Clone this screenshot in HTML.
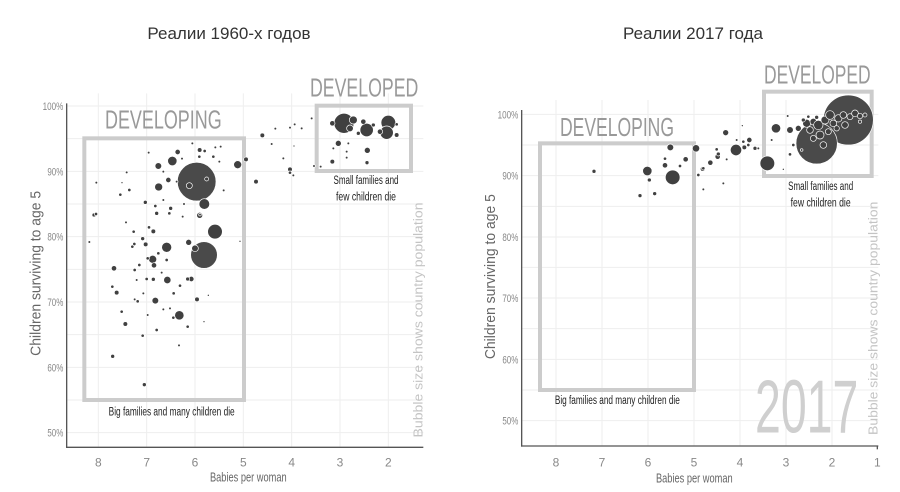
<!DOCTYPE html>
<html><head><meta charset="utf-8"><style>
html,body{margin:0;padding:0;background:#fff;}
svg{display:block;font-family:"Liberation Sans",sans-serif;}
.t{font-family:"Liberation Sans",sans-serif;}
</style></head><body>
<svg width="900" height="492" viewBox="0 0 900 492" xmlns="http://www.w3.org/2000/svg">
<rect width="900" height="492" fill="#fff"/>
<text x="229" y="39" font-size="17" fill="#333" text-anchor="middle" font-family="Liberation Sans, DejaVu Sans, sans-serif">Реалии 1960-х годов</text>
<text x="693" y="39" font-size="17" fill="#333" text-anchor="middle" font-family="Liberation Sans, DejaVu Sans, sans-serif">Реалии 2017 года</text>

<!-- LEFT -->
<g transform="translate(0,60) scale(0.33333)">
<g stroke="#eeeeee" stroke-width="3">
<line x1="295" y1="100" x2="295" y2="1162"/><line x1="440" y1="100" x2="440" y2="1162"/><line x1="585" y1="100" x2="585" y2="1162"/><line x1="730" y1="100" x2="730" y2="1162"/><line x1="875" y1="100" x2="875" y2="1162"/><line x1="1020" y1="100" x2="1020" y2="1162"/><line x1="1165" y1="100" x2="1165" y2="1162"/>
<line x1="200" y1="236" x2="1270" y2="236"/><line x1="200" y1="334" x2="1270" y2="334"/><line x1="200" y1="432" x2="1270" y2="432"/><line x1="200" y1="530" x2="1270" y2="530"/><line x1="200" y1="628" x2="1270" y2="628"/><line x1="200" y1="726" x2="1270" y2="726"/><line x1="200" y1="824" x2="1270" y2="824"/><line x1="200" y1="922" x2="1270" y2="922"/><line x1="200" y1="1020" x2="1270" y2="1020"/><line x1="200" y1="1118" x2="1270" y2="1118"/><line x1="200" y1="138" x2="1270" y2="138"/>
</g>
<g stroke="#555" stroke-width="4"><line x1="200" y1="130" x2="200" y2="1164"/><line x1="198" y1="1162" x2="1270" y2="1162"/></g>
<g font-size="34" fill="#888" text-anchor="end" class="t">
<text x="190" y="150" textLength="62" lengthAdjust="spacingAndGlyphs">100%</text><text x="190" y="346" textLength="48" lengthAdjust="spacingAndGlyphs">90%</text><text x="190" y="542" textLength="48" lengthAdjust="spacingAndGlyphs">80%</text><text x="190" y="738" textLength="48" lengthAdjust="spacingAndGlyphs">70%</text><text x="190" y="934" textLength="48" lengthAdjust="spacingAndGlyphs">60%</text><text x="190" y="1130" textLength="48" lengthAdjust="spacingAndGlyphs">50%</text></g>
<g font-size="36" fill="#888" text-anchor="middle" class="t">
<text x="295" y="1220">8</text><text x="440" y="1220">7</text><text x="585" y="1220">6</text><text x="730" y="1220">5</text><text x="875" y="1220">4</text><text x="1020" y="1220">3</text><text x="1165" y="1220">2</text></g>
<text x="745" y="1265" font-size="38" fill="#666" text-anchor="middle" class="t" textLength="230" lengthAdjust="spacingAndGlyphs">Babies per woman</text>
<text transform="translate(122,640) rotate(-90)" font-size="44" fill="#666" text-anchor="middle" textLength="495" lengthAdjust="spacingAndGlyphs">Children surviving to age 5</text>
<text transform="translate(1268,780) rotate(-90)" font-size="40" fill="#c4c4c4" text-anchor="middle" textLength="705" lengthAdjust="spacingAndGlyphs">Bubble size shows country population</text>
<rect x="253" y="235" width="479" height="785" fill="none" stroke="#cccccc" stroke-width="12"/>
<rect x="950" y="137" width="283" height="196" fill="none" stroke="#cccccc" stroke-width="12"/>
<text x="315" y="205" font-size="78" fill="#999" class="t" textLength="350" lengthAdjust="spacingAndGlyphs">DEVELOPING</text>
<text x="930" y="110" font-size="78" fill="#999" class="t" textLength="325" lengthAdjust="spacingAndGlyphs">DEVELOPED</text>
<g font-size="36" fill="#222" text-anchor="middle" class="t">
<text x="1098" y="372" textLength="195" lengthAdjust="spacingAndGlyphs">Small families and</text>
<text x="1098" y="422" textLength="180" lengthAdjust="spacingAndGlyphs">few children die</text>
<text x="515" y="1067" textLength="378" lengthAdjust="spacingAndGlyphs">Big families and many children die</text></g>
<g fill="#404040" stroke="#fff" stroke-width="2">
<circle cx="590" cy="365" r="58" fill="#4a4a4a"/><circle cx="612" cy="585" r="40" fill="#4a4a4a"/>
<circle cx="1032" cy="190" r="30"/><circle cx="1165" cy="188" r="22"/><circle cx="1160" cy="218" r="20"/><circle cx="1100" cy="210" r="20"/>
<circle cx="613" cy="432" r="16"/><circle cx="645" cy="515" r="22"/><circle cx="500" cy="562" r="15"/><circle cx="517" cy="303" r="14"/><circle cx="476" cy="381" r="12"/><circle cx="475" cy="318" r="10"/><circle cx="713" cy="314" r="12"/><circle cx="538" cy="766" r="14"/><circle cx="502" cy="660" r="11"/><circle cx="466" cy="722" r="10"/>
<circle cx="1015" cy="250" r="9"/><circle cx="1102" cy="271" r="9"/><circle cx="997" cy="190" r="8"/><circle cx="997" cy="305" r="7"/><circle cx="1101" cy="308" r="6"/><circle cx="1060" cy="180" r="12"/><circle cx="1050" cy="205" r="10"/><circle cx="1090" cy="185" r="8"/><circle cx="1120" cy="195" r="6"/><circle cx="1190" cy="225" r="7"/><circle cx="1190" cy="193" r="5"/><circle cx="1140" cy="215" r="8"/><circle cx="1075" cy="220" r="6"/><circle cx="1045" cy="250" r="4"/><circle cx="1040" cy="275" r="4"/><circle cx="1040" cy="293" r="4"/><circle cx="1000" cy="265" r="4"/>
<circle cx="585" cy="565" r="10"/><circle cx="568" cy="377" r="9"/><circle cx="566" cy="547" r="9"/><circle cx="599" cy="466" r="9"/><circle cx="599" cy="270" r="7"/><circle cx="620" cy="357" r="6"/><circle cx="738" cy="298" r="7"/><circle cx="768" cy="365" r="7"/><circle cx="787" cy="226" r="7"/><circle cx="870" cy="328" r="7"/><circle cx="870" cy="338" r="5"/>
<circle cx="458" cy="598" r="12"/><circle cx="462" cy="616" r="8"/><circle cx="342" cy="625" r="8"/><circle cx="350" cy="698" r="7"/><circle cx="376" cy="792" r="7"/><circle cx="338" cy="889" r="6"/><circle cx="433" cy="974" r="6"/><circle cx="574" cy="657" r="8"/><circle cx="563" cy="657" r="6"/><circle cx="591" cy="718" r="7"/><circle cx="428" cy="827" r="5"/><circle cx="365" cy="755" r="5"/>
<circle cx="533" cy="276" r="8"/><circle cx="505" cy="360" r="8"/><circle cx="470" cy="460" r="6"/><circle cx="436" cy="427" r="6"/><circle cx="460" cy="514" r="7"/><circle cx="437" cy="553" r="7"/><circle cx="428" cy="536" r="6"/><circle cx="403" cy="552" r="5"/><circle cx="397" cy="560" r="5"/><circle cx="282" cy="465" r="6"/><circle cx="288" cy="462" r="5"/><circle cx="268" cy="546" r="4"/><circle cx="361" cy="404" r="5"/><circle cx="337" cy="680" r="5"/><circle cx="460" cy="658" r="6"/><circle cx="512" cy="445" r="6"/><circle cx="508" cy="460" r="5"/><circle cx="600" cy="464" r="4"/><circle cx="548" cy="470" r="4"/><circle cx="671" cy="391" r="4"/><circle cx="720" cy="544" r="3"/><circle cx="625" cy="706" r="3"/><circle cx="612" cy="785" r="3"/><circle cx="563" cy="800" r="5"/><circle cx="537" cy="856" r="4"/><circle cx="470" cy="810" r="5"/><circle cx="520" cy="773" r="5"/><circle cx="521" cy="700" r="5"/><circle cx="540" cy="677" r="5"/><circle cx="413" cy="724" r="5"/><circle cx="404" cy="718" r="4"/><circle cx="447" cy="502" r="5"/><circle cx="401" cy="515" r="5"/><circle cx="378" cy="487" r="4"/><circle cx="380" cy="337" r="4"/><circle cx="388" cy="390" r="5"/><circle cx="289" cy="368" r="4"/><circle cx="366" cy="368" r="3"/><circle cx="446" cy="278" r="4"/><circle cx="490" cy="335" r="4"/><circle cx="577" cy="250" r="4"/><circle cx="614" cy="273" r="5"/><circle cx="640" cy="290" r="5"/><circle cx="658" cy="305" r="4"/><circle cx="662" cy="260" r="4"/><circle cx="646" cy="262" r="4"/><circle cx="598" cy="290" r="5"/><circle cx="546" cy="296" r="4"/><circle cx="530" cy="365" r="4"/><circle cx="552" cy="432" r="4"/><circle cx="466" cy="438" r="5"/><circle cx="490" cy="420" r="4"/><circle cx="418" cy="615" r="5"/><circle cx="404" cy="630" r="5"/><circle cx="443" cy="595" r="5"/><circle cx="475" cy="580" r="5"/><circle cx="485" cy="638" r="4"/><circle cx="500" cy="600" r="5"/><circle cx="410" cy="660" r="4"/><circle cx="430" cy="700" r="4"/><circle cx="440" cy="657" r="5"/><circle cx="490" cy="748" r="4"/><circle cx="443" cy="765" r="4"/><circle cx="510" cy="745" r="4"/><circle cx="826" cy="206" r="4"/><circle cx="884" cy="193" r="4"/><circle cx="870" cy="203" r="4"/><circle cx="905" cy="205" r="4"/><circle cx="815" cy="252" r="4"/><circle cx="850" cy="295" r="4"/><circle cx="882" cy="258" r="3"/><circle cx="880" cy="346" r="4"/><circle cx="935" cy="175" r="4"/><circle cx="942" cy="318" r="4"/><circle cx="962" cy="320" r="4"/>
</g>
</g>

<!-- RIGHT -->
<g transform="translate(450,60) scale(0.33333)">
<g stroke="#eeeeee" stroke-width="3">
<line x1="318" y1="120" x2="318" y2="1158"/><line x1="456" y1="120" x2="456" y2="1158"/><line x1="594" y1="120" x2="594" y2="1158"/><line x1="732" y1="120" x2="732" y2="1158"/><line x1="870" y1="120" x2="870" y2="1158"/><line x1="1008" y1="120" x2="1008" y2="1158"/><line x1="1146" y1="120" x2="1146" y2="1158"/>
<line x1="215" y1="163" x2="1285" y2="163"/><line x1="215" y1="255" x2="1285" y2="255"/><line x1="215" y1="347" x2="1285" y2="347"/><line x1="215" y1="439" x2="1285" y2="439"/><line x1="215" y1="531" x2="1285" y2="531"/><line x1="215" y1="622" x2="1285" y2="622"/><line x1="215" y1="714" x2="1285" y2="714"/><line x1="215" y1="806" x2="1285" y2="806"/><line x1="215" y1="898" x2="1285" y2="898"/><line x1="215" y1="990" x2="1285" y2="990"/><line x1="215" y1="1082" x2="1285" y2="1082"/>
</g>
<g stroke="#555" stroke-width="4"><line x1="215" y1="150" x2="215" y2="1160"/><line x1="213" y1="1158" x2="1285" y2="1158"/><line x1="1282" y1="1158" x2="1282" y2="1168"/></g>
<g font-size="34" fill="#888" text-anchor="end" class="t">
<text x="205" y="175" textLength="62" lengthAdjust="spacingAndGlyphs">100%</text><text x="205" y="359" textLength="48" lengthAdjust="spacingAndGlyphs">90%</text><text x="205" y="543" textLength="48" lengthAdjust="spacingAndGlyphs">80%</text><text x="205" y="726" textLength="48" lengthAdjust="spacingAndGlyphs">70%</text><text x="205" y="910" textLength="48" lengthAdjust="spacingAndGlyphs">60%</text><text x="205" y="1094" textLength="48" lengthAdjust="spacingAndGlyphs">50%</text></g>
<g font-size="36" fill="#888" text-anchor="middle" class="t">
<text x="318" y="1220">8</text><text x="456" y="1220">7</text><text x="594" y="1220">6</text><text x="732" y="1220">5</text><text x="870" y="1220">4</text><text x="1008" y="1220">3</text><text x="1146" y="1220">2</text><text x="1282" y="1220">1</text></g>
<text x="733" y="1268" font-size="38" fill="#666" text-anchor="middle" class="t" textLength="230" lengthAdjust="spacingAndGlyphs">Babies per woman</text>
<text transform="translate(135,650) rotate(-90)" font-size="44" fill="#666" text-anchor="middle" textLength="495" lengthAdjust="spacingAndGlyphs">Children surviving to age 5</text>
<text x="915" y="1118" font-size="225" fill="#cfcfcf" class="t" textLength="310" lengthAdjust="spacingAndGlyphs">2017</text>
<text transform="translate(1282,775) rotate(-90)" font-size="40" fill="#c4c4c4" text-anchor="middle" textLength="700" lengthAdjust="spacingAndGlyphs">Bubble size shows country population</text>
<rect x="270" y="250" width="462" height="740" fill="none" stroke="#cccccc" stroke-width="12"/>
<rect x="942" y="95" width="323" height="253" fill="none" stroke="#cccccc" stroke-width="12"/>
<text x="330" y="228" font-size="78" fill="#999" class="t" textLength="342" lengthAdjust="spacingAndGlyphs">DEVELOPING</text>
<text x="942" y="70" font-size="78" fill="#999" class="t" textLength="320" lengthAdjust="spacingAndGlyphs">DEVELOPED</text>
<g font-size="36" fill="#222" text-anchor="middle" class="t">
<text x="1112" y="390" textLength="195" lengthAdjust="spacingAndGlyphs">Small families and</text>
<text x="1112" y="440" textLength="180" lengthAdjust="spacingAndGlyphs">few children die</text>
<text x="502" y="1032" textLength="375" lengthAdjust="spacingAndGlyphs">Big families and many children die</text></g>
<g fill="#404040" stroke="#fff" stroke-width="2">
<circle cx="1195" cy="180" r="75" fill="#4a4a4a"/><circle cx="1100" cy="250" r="62" fill="#4a4a4a"/>
<circle cx="952" cy="310" r="22"/><circle cx="668" cy="352" r="22"/><circle cx="858" cy="270" r="17"/><circle cx="592" cy="333" r="14"/><circle cx="978" cy="205" r="14"/><circle cx="738" cy="265" r="11"/><circle cx="661" cy="262" r="10"/><circle cx="1020" cy="210" r="10"/><circle cx="827" cy="218" r="9"/><circle cx="1045" cy="205" r="9"/><circle cx="645" cy="316" r="8"/><circle cx="707" cy="298" r="8"/><circle cx="598" cy="360" r="6"/><circle cx="570" cy="407" r="6"/><circle cx="614" cy="401" r="6"/><circle cx="432" cy="334" r="6"/><circle cx="781" cy="308" r="8"/><circle cx="803" cy="290" r="8"/><circle cx="758" cy="327" r="7"/><circle cx="898" cy="240" r="8"/><circle cx="883" cy="262" r="7"/><circle cx="915" cy="265" r="6"/><circle cx="760" cy="325" r="5"/><circle cx="745" cy="345" r="5"/><circle cx="690" cy="318" r="5"/><circle cx="645" cy="296" r="5"/><circle cx="820" cy="370" r="4"/><circle cx="760" cy="388" r="4"/><circle cx="800" cy="268" r="5"/><circle cx="805" cy="282" r="6"/><circle cx="880" cy="245" r="5"/><circle cx="895" cy="255" r="5"/><circle cx="925" cy="265" r="4"/><circle cx="830" cy="298" r="4"/><circle cx="860" cy="240" r="4"/><circle cx="877" cy="197" r="3"/><circle cx="1013" cy="168" r="4"/><circle cx="1000" cy="328" r="3"/><circle cx="1020" cy="283" r="5"/><circle cx="1030" cy="255" r="5"/><circle cx="1055" cy="270" r="4"/><circle cx="965" cy="240" r="4"/>
<circle cx="1070" cy="190" r="12"/><circle cx="1090" cy="185" r="10"/><circle cx="1105" cy="195" r="14"/><circle cx="1125" cy="180" r="12"/><circle cx="1140" cy="165" r="13"/><circle cx="1150" cy="190" r="10"/><circle cx="1165" cy="175" r="11"/><circle cx="1180" cy="165" r="10"/><circle cx="1200" cy="170" r="9"/><circle cx="1215" cy="160" r="10"/><circle cx="1230" cy="168" r="8"/><circle cx="1245" cy="165" r="6"/><circle cx="1080" cy="210" r="10"/><circle cx="1110" cy="225" r="12"/><circle cx="1135" cy="215" r="9"/><circle cx="1120" cy="255" r="10"/><circle cx="1090" cy="235" r="9"/><circle cx="1185" cy="195" r="10"/><circle cx="1060" cy="180" r="6"/><circle cx="1075" cy="170" r="5"/><circle cx="1100" cy="172" r="6"/><circle cx="1160" cy="205" r="8"/><circle cx="1230" cy="185" r="5"/>
</g>
</g>
</svg>
</body></html>
